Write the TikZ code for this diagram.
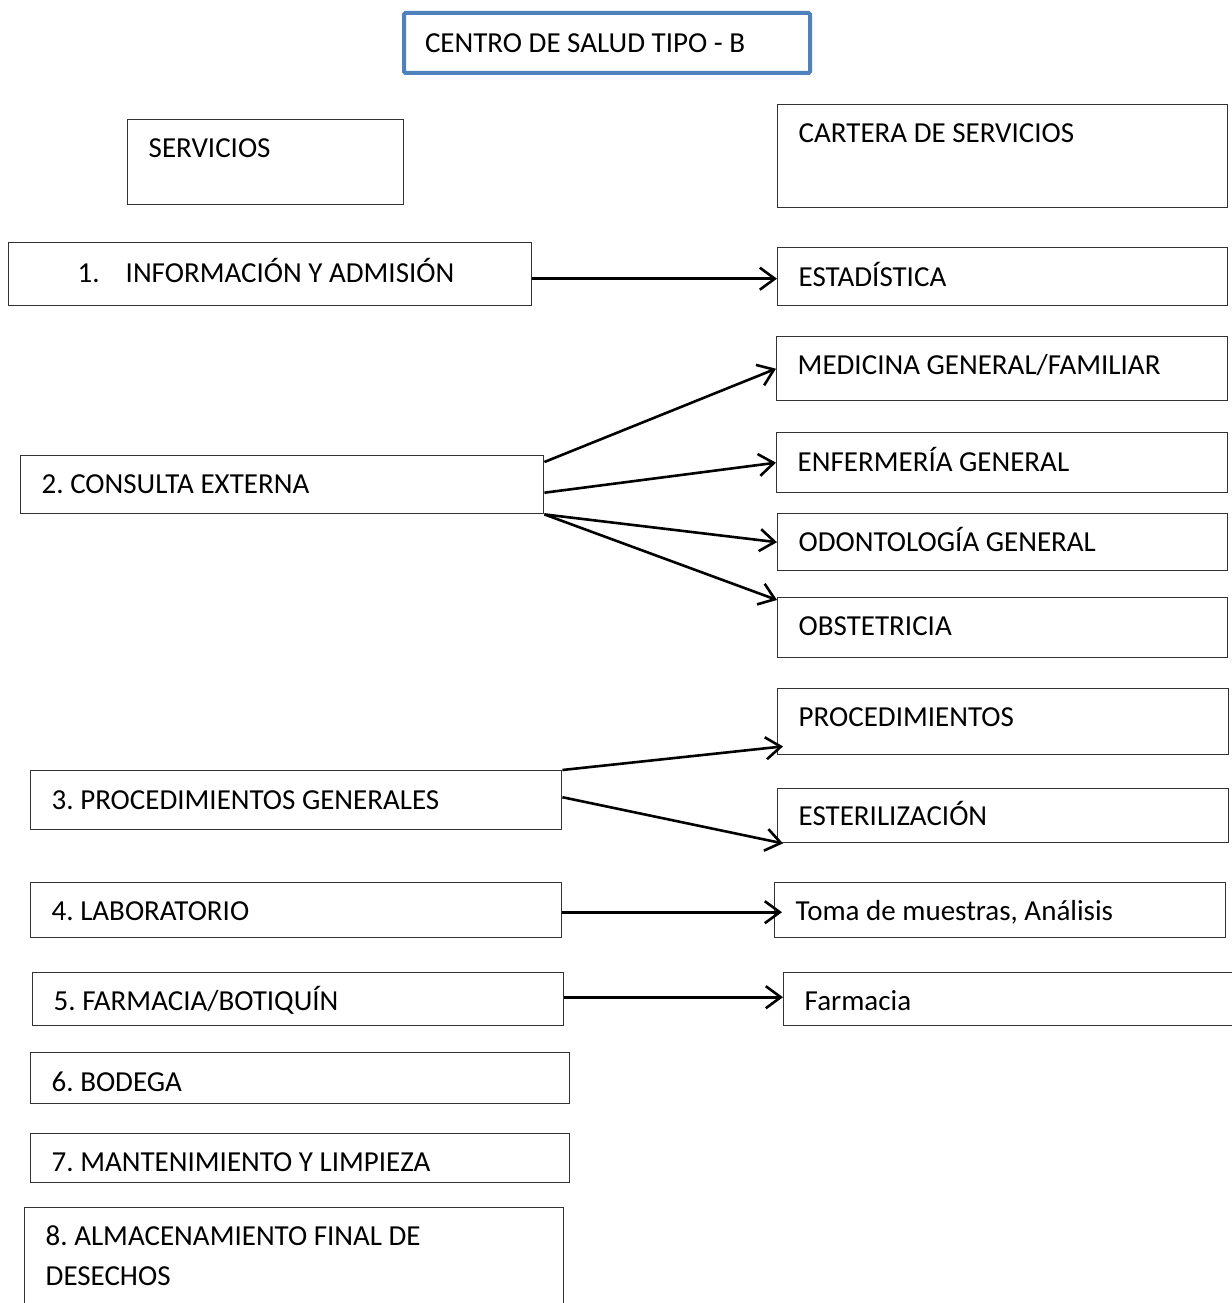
\documentclass[tikz,border=0pt]{standalone}
\usepackage{fontspec}
\setmainfont{Carlito}
\usetikzlibrary{arrows.meta}
\definecolor{blueline}{HTML}{4F81BD}
\newcommand\nsp{\frenchspacing\spaceskip=0pt\xspaceskip=0pt\relax}
\begin{document}
\begin{tikzpicture}[x=1pt,y=-1pt,
  box/.style={draw=black!80, line width=1.4pt, anchor=north west, inner xsep=21pt, inner ysep=0pt, align=left, font=\fontsize{29}{40}\selectfont},
  cy/.code={\pgfmathsetmacro\cyh{max(2*(#1+9.16),0)}\pgfmathsetmacro\cyd{max(-2*(#1+9.16),0)}\pgfkeysalso{text height=\cyh pt, text depth=\cyd pt}},
  arr/.style={line width=2.6pt, -{Straight Barb[length=15pt,width=22pt]}}]
\fill[white] (0,0) rectangle (1231,1303);
\useasboundingbox (0,0) rectangle (1231,1303);
% title
\node[box, draw=blueline, line width=4pt, rounded corners=1.5pt, text width=364pt, minimum height=60pt, cy=0.5] (title) at (402,11) {\nsp CENTRO DE SALUD TIPO - B};
\node[box, text width=234pt, minimum height=85pt, cy=-13.5] (serv) at (127,119) {\nsp SERVICIOS};
\node[box, text width=408pt, minimum height=103pt, cy=-22.5] (cart) at (777,104) {\nsp CARTERA DE SERVICIOS};
% left column
\node[box, text width=481pt, minimum height=63pt, cy=-1] (b1) at (8,242) {\nsp\hspace*{48pt}1.\hspace{26pt}INFORMACIÓN Y ADMISIÓN};
\node[box, text width=481pt, minimum height=58pt, cy=0] (b2) at (20,455) {\nsp 2. CONSULTA EXTERNA};
\node[box, text width=489pt, minimum height=59pt, cy=0.5] (b3) at (30,770) {\nsp 3. PROCEDIMIENTOS GENERALES};
\node[box, text width=489pt, minimum height=55pt, cy=1.5] (b4) at (30,882) {\nsp 4. LABORATORIO};
\node[box, text width=489pt, minimum height=53pt, cy=2.5] (b5) at (32,972) {\nsp 5. FARMACIA/BOTIQUÍN};
\node[box, text width=497pt, minimum height=51pt, cy=4.5] (b6) at (30,1052) {\nsp 6. BODEGA};
\node[box, text width=497pt, minimum height=49pt, cy=4.5] (b7) at (30,1133) {\nsp 7. MANTENIMIENTO Y LIMPIEZA};
\node[box, text width=497pt, minimum height=100pt, cy=-21] (b8) at (24,1207) {\nsp 8. ALMACENAMIENTO FINAL DE\\DESECHOS};
% right column
\node[box, text width=408pt, minimum height=58pt, cy=0.5] (estad) at (777,247) {\nsp ESTADÍSTICA};
\node[box, text width=409pt, minimum height=64pt, cy=-3] (med) at (776,336) {\nsp MEDICINA GENERAL/FAMILIAR};
\node[box, text width=409pt, minimum height=60pt, cy=0] (enf) at (776,432) {\nsp ENFERMERÍA GENERAL};
\node[box, text width=408pt, minimum height=57pt, cy=0.5] (odo) at (777,513) {\nsp ODONTOLOGÍA GENERAL};
\node[box, text width=408pt, minimum height=60pt, cy=-1] (obs) at (777,597) {\nsp OBSTETRICIA};
\node[box, text width=409pt, minimum height=66pt, cy=-4] (proc) at (777,688) {\nsp PROCEDIMIENTOS};
\node[box, text width=409pt, minimum height=54pt, cy=1] (ester) at (777,788) {\nsp ESTERILIZACIÓN};
\node[box, text width=409pt, minimum height=55pt, cy=1.5] (toma) at (774,882) {\nsp Toma de muestras, Análisis};
\node[box, text width=418pt, minimum height=53pt, cy=2.5] (farm) at (783,972) {\nsp Farmacia};
% connectors
\draw[arr] ([yshift=-4.5pt]b1.east) -- ([yshift=-2pt]estad.west);
\draw[arr] ([yshift=-7pt]b2.north east) -- (med.west);
\draw[arr] ([yshift=-8pt]b2.east) -- (enf.west);
\draw[arr] (b2.south east) -- (odo.west);
\draw[arr] (b2.south east) -- ([yshift=-3pt]obs.north west);
\draw[arr] (b3.north east) -- ([xshift=6pt,yshift=9pt]proc.south west);
\draw[arr] ([yshift=3pt]b3.east) -- ([xshift=6pt]ester.south west);
\draw[arr] ([yshift=-2pt]b4.east) -- ([xshift=8pt,yshift=-2pt]toma.west);
\draw[arr] ([yshift=2pt]b5.east) -- ([yshift=2pt]farm.west);
\end{tikzpicture}
\end{document}
